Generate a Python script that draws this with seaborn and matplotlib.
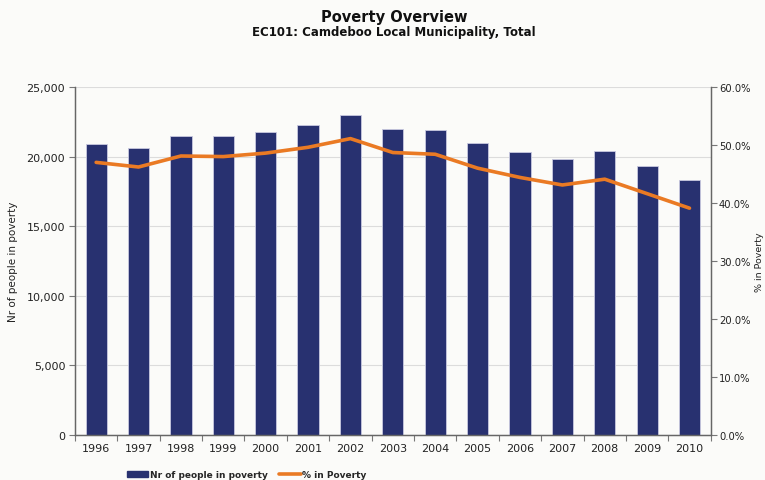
import numpy as np
import pandas as pd
import matplotlib
matplotlib.use("Agg")
import matplotlib.pyplot as plt
from matplotlib.patches import Patch
from matplotlib.lines import Line2D
import seaborn as sns

years = ["1996", "1997", "1998", "1999", "2000", "2001", "2002", "2003",
         "2004", "2005", "2006", "2007", "2008", "2009", "2010"]
people_in_poverty = [20900, 20600, 21460, 21500, 21740, 22300, 23000, 22000,
                     21930, 21000, 20300, 19800, 20380, 19300, 18300]
pct_in_poverty = [47.0, 46.2, 48.1, 48.0, 48.6, 49.6, 51.1, 48.7,
                  48.4, 46.0, 44.4, 43.1, 44.1, 41.6, 39.1]

df = pd.DataFrame({"year": years, "people": people_in_poverty, "pct": pct_in_poverty})

sns.set_theme(style="white")
plt.rcParams["font.family"] = ["DejaVu Sans"]

BAR = "#283170"
LINE = "#ea7a24"
TXT = "#222222"
BG = "#fbfbf9"

fig = plt.figure(figsize=(7.65, 4.81), dpi=100, facecolor=BG)
ax = fig.add_axes([0.098, 0.094, 0.831, 0.723])
ax.set_facecolor(BG)

sns.barplot(data=df, x="year", y="people", color=BAR, width=0.5,
            edgecolor="#c8c9e0", linewidth=0.6, saturation=1, ax=ax, zorder=2)
ax.set_ylim(0, 25000)
ax.set_yticks(np.arange(0, 25001, 5000))
ax.set_yticklabels([f"{v:,}" for v in range(0, 25001, 5000)], fontsize=8, color=TXT)
ax.yaxis.grid(True, color="#dcdcdc", linewidth=0.8, zorder=0)
ax.set_axisbelow(True)
ax.set_xlabel("")
ax.set_ylabel("Nr of people in poverty", fontsize=7.5, color=TXT, labelpad=6)
ax.tick_params(axis="x", labelsize=8, colors=TXT, length=0, pad=6)
ax.tick_params(axis="y", left=True, length=4, color="#777777", width=0.8, pad=3)
ax.set_xticks(np.arange(len(years) + 1) - 0.5, minor=True)
ax.tick_params(axis="x", which="minor", bottom=True, length=4, color="#777777", width=0.8)
ax.set_xlim(-0.5, len(years) - 0.5)

ax2 = ax.twinx()
sns.lineplot(x=np.arange(len(years)), y=df["pct"], color=LINE, linewidth=2.6,
             ax=ax2, zorder=3)
ax2.set_ylim(0, 60)
ax2.set_yticks(np.arange(0, 61, 10))
ax2.set_yticklabels([f"{v:.1f}%" for v in range(0, 61, 10)], fontsize=7.2, color=TXT)
ax2.set_ylabel("% in Poverty", fontsize=6.8, color=TXT)
ax2.yaxis.set_label_coords(1.07, 0.5)
ax2.tick_params(axis="y", right=True, length=4, color="#777777", width=0.8, pad=2)
ax2.grid(False)

for a in (ax, ax2):
    a.spines["top"].set_visible(False)
    for side in ("left", "right", "bottom"):
        a.spines[side].set_color("#666666")
        a.spines[side].set_linewidth(0.9)

fig.text(0.515, 0.963, "Poverty Overview", ha="center", va="center",
         fontsize=10.5, fontweight="bold", color="#111111")
fig.text(0.515, 0.932, "EC101: Camdeboo Local Municipality, Total", ha="center",
         va="center", fontsize=8.5, fontweight="bold", color="#111111")

handles = [Patch(facecolor=BAR, edgecolor=BAR, label="Nr of people in poverty"),
           Line2D([0], [0], color=LINE, linewidth=2.6, label="% in Poverty")]
fig.legend(handles=handles, loc="center left", bbox_to_anchor=(0.155, 0.011),
           ncol=2, frameon=False, prop={"weight": "bold", "size": 6.5},
           handlelength=2.4, handleheight=0.6, handletextpad=0.2, columnspacing=1.2)

fig.savefig("out.png", dpi=100, facecolor=BG)
